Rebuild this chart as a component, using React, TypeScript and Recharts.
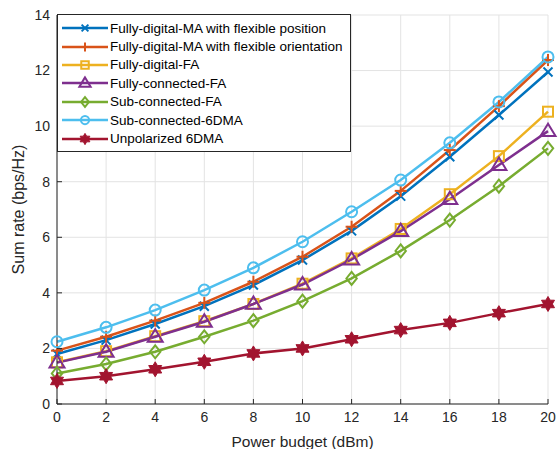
import { LineChart, Line, XAxis, YAxis, CartesianGrid, Legend } from "recharts";

// x axis: transmit power budget (dBm)
const powerBudget = [0, 2, 4, 6, 8, 10, 12, 14, 16, 18, 20];

// sum rate (bps/Hz)
const fdPosition = [1.8, 2.3, 2.88, 3.52, 4.28, 5.18, 6.23, 7.48, 8.9, 10.4, 11.95];
const fdOrientation = [1.92, 2.42, 3.0, 3.64, 4.4, 5.3, 6.38, 7.67, 9.14, 10.72, 12.38];
const fdFA = [1.5, 1.9, 2.44, 2.98, 3.6, 4.33, 5.24, 6.3, 7.55, 8.92, 10.52];
const fcFA = [1.49, 1.88, 2.42, 2.96, 3.6, 4.3, 5.2, 6.22, 7.37, 8.6, 9.82];
const scFA = [1.1, 1.44, 1.88, 2.42, 3.0, 3.7, 4.52, 5.51, 6.62, 7.84, 9.2];
const sc6DMA = [2.24, 2.76, 3.38, 4.1, 4.9, 5.84, 6.92, 8.06, 9.4, 10.87, 12.49];
const unpol6DMA = [0.83, 1.0, 1.25, 1.52, 1.82, 2.0, 2.33, 2.66, 2.92, 3.27, 3.6];

const xTicks = [0, 2, 4, 6, 8, 10, 12, 14, 16, 18, 20];
const yTicks = [0, 2, 4, 6, 8, 10, 12, 14];

type Shape = "x" | "plus" | "square" | "triangle" | "diamond" | "circle" | "hexagram";

const series: { key: string; name: string; color: string; shape: Shape; values: number[] }[] = [
  { key: "fdPos", name: "Fully-digital-MA with flexible position", color: "#0072BD", shape: "x", values: fdPosition },
  { key: "fdOri", name: "Fully-digital-MA with flexible orientation", color: "#D95319", shape: "plus", values: fdOrientation },
  { key: "fdFA", name: "Fully-digital-FA", color: "#EDB120", shape: "square", values: fdFA },
  { key: "fcFA", name: "Fully-connected-FA", color: "#7E2F8E", shape: "triangle", values: fcFA },
  { key: "scFA", name: "Sub-connected-FA", color: "#77AC30", shape: "diamond", values: scFA },
  { key: "sc6", name: "Sub-connected-6DMA", color: "#4DBEEE", shape: "circle", values: sc6DMA },
  { key: "unpol", name: "Unpolarized 6DMA", color: "#A2142F", shape: "hexagram", values: unpol6DMA },
];

const data = powerBudget.map((x, i) => {
  const row: Record<string, number> = { x };
  series.forEach((s) => (row[s.key] = s.values[i]));
  return row;
});

const FONT = "'Liberation Sans', Arial, Helvetica, sans-serif";
const AXIS = "#262626";

function Marker({ shape, cx, cy, color, s = 1 }: { shape: Shape; cx: number; cy: number; color: string; s?: number }) {
  const sw = 2;
  switch (shape) {
    case "x": {
      const d = 4.5 * s;
      return (
        <g stroke={color} strokeWidth={sw}>
          <line x1={cx - d} y1={cy - d} x2={cx + d} y2={cy + d} />
          <line x1={cx - d} y1={cy + d} x2={cx + d} y2={cy - d} />
        </g>
      );
    }
    case "plus": {
      const d = 6 * s;
      return (
        <g stroke={color} strokeWidth={sw}>
          <line x1={cx - d} y1={cy} x2={cx + d} y2={cy} />
          <line x1={cx} y1={cy - d} x2={cx} y2={cy + d} />
        </g>
      );
    }
    case "square": {
      const d = 5 * s;
      return <rect x={cx - d} y={cy - d} width={2 * d} height={2 * d} fill="none" stroke={color} strokeWidth={sw} />;
    }
    case "triangle": {
      const d = 7.5 * s;
      const pts = `${cx},${cy - d} ${cx - d},${cy + d * 0.65} ${cx + d},${cy + d * 0.65}`;
      return <polygon points={pts} fill="none" stroke={color} strokeWidth={sw} />;
    }
    case "diamond": {
      const d = 6.5 * s;
      const pts = `${cx},${cy - d} ${cx + d * 0.8},${cy} ${cx},${cy + d} ${cx - d * 0.8},${cy}`;
      return <polygon points={pts} fill="none" stroke={color} strokeWidth={sw} />;
    }
    case "circle":
      return <circle cx={cx} cy={cy} r={5.5 * s} fill="none" stroke={color} strokeWidth={sw} />;
    case "hexagram": {
      const r = 7.5 * s;
      const pts: string[] = [];
      for (let k = 0; k < 12; k++) {
        const a = (Math.PI / 6) * k - Math.PI / 2;
        const rr = k % 2 === 0 ? r : r * 0.58;
        pts.push(`${cx + rr * Math.cos(a)},${cy + rr * Math.sin(a)}`);
      }
      return <polygon points={pts.join(" ")} fill={color} stroke={color} strokeWidth={1} />;
    }
  }
  return null;
}

// matlab-style ticks: short inward mark plus label
const BottomTick = ({ x, y, payload }: any) => (
  <g>
    <line x1={x} x2={x} y1={y} y2={y - 5} stroke={AXIS} />
    <text x={x} y={y + 8} dy="0.71em" textAnchor="middle" fill={AXIS} fontSize={14} fontFamily={FONT}>
      {payload.value}
    </text>
  </g>
);
const TopTick = ({ x, y }: any) => <line x1={x} x2={x} y1={y} y2={y + 5} stroke={AXIS} />;
const LeftTick = ({ x, y, payload }: any) => (
  <g>
    <line x1={x} x2={x + 5} y1={y} y2={y} stroke={AXIS} />
    <text x={x - 7} y={y} dy="0.35em" textAnchor="end" fill={AXIS} fontSize={14} fontFamily={FONT}>
      {payload.value}
    </text>
  </g>
);
const RightTick = ({ x, y }: any) => <line x1={x} x2={x - 5} y1={y} y2={y} stroke={AXIS} />;

const renderLegend = () => (
  <div
    style={{
      boxSizing: "border-box",
      width: 294,
      border: "1px solid " + AXIS,
      background: "#fff",
      padding: "4px 0 3px 0",
      fontFamily: FONT,
      fontSize: 13.5,
      color: "#000",
    }}
  >
    {series.map((s) => (
      <div key={s.key} style={{ display: "flex", alignItems: "center", height: 18.4 }}>
        <svg width={52} height={18} style={{ flex: "none" }}>
          <line x1={4} y1={9} x2={50} y2={9} stroke={s.color} strokeWidth={2.5} />
          <Marker shape={s.shape} cx={27} cy={9} color={s.color} s={0.75} />
        </svg>
        <span style={{ whiteSpace: "nowrap" }}>{s.name}</span>
      </div>
    ))}
  </div>
);

export default function App() {
  return (
    <div style={{ position: "absolute", left: 0, top: 0, width: 558, height: 449, background: "#fff" }}>
      <LineChart width={558} height={449} data={data} margin={{ top: 15, right: 10, left: 0, bottom: 15 }}>
        <CartesianGrid stroke="#e3e3e3" strokeWidth={1} />
        <XAxis
          dataKey="x"
          type="number"
          domain={[0, 20]}
          ticks={xTicks}
          height={30}
          tickSize={0}
          tickMargin={0}
          tickLine={false}
          axisLine={{ stroke: AXIS }}
          tick={<BottomTick />}
          label={{ value: "Power budget (dBm)", position: "insideBottom", offset: -13, fill: AXIS, fontSize: 15.5, fontFamily: FONT }}
        />
        <XAxis
          xAxisId="top"
          orientation="top"
          dataKey="x"
          type="number"
          domain={[0, 20]}
          ticks={xTicks}
          height={0}
          tickSize={0}
          tickMargin={0}
          tickLine={false}
          tick={<TopTick />}
          axisLine={{ stroke: AXIS }}
        />
        <YAxis
          type="number"
          domain={[0, 14]}
          ticks={yTicks}
          width={57}
          tickSize={0}
          tickMargin={0}
          tickLine={false}
          axisLine={{ stroke: AXIS }}
          tick={<LeftTick />}
          label={{ value: "Sum rate (bps/Hz)", angle: -90, position: "insideLeft", offset: 18, style: { textAnchor: "middle" }, fill: AXIS, fontSize: 16, fontFamily: FONT }}
        />
        <YAxis
          yAxisId="right"
          orientation="right"
          type="number"
          domain={[0, 14]}
          ticks={yTicks}
          width={0}
          tickSize={0}
          tickMargin={0}
          tickLine={false}
          tick={<RightTick />}
          axisLine={{ stroke: AXIS }}
        />
        {series.map((s) => (
          <Line
            key={s.key}
            dataKey={s.key}
            name={s.name}
            stroke={s.color}
            strokeWidth={2.5}
            isAnimationActive={false}
            dot={(p: any) => <Marker key={`${s.key}-${p.index}`} shape={s.shape} cx={p.cx} cy={p.cy} color={s.color} />}
            activeDot={false}
          />
        ))}
        <Legend layout="vertical" align="center" verticalAlign="middle" content={renderLegend} wrapperStyle={{ left: 57, top: 14, width: 294 }} />
      </LineChart>
    </div>
  );
}
